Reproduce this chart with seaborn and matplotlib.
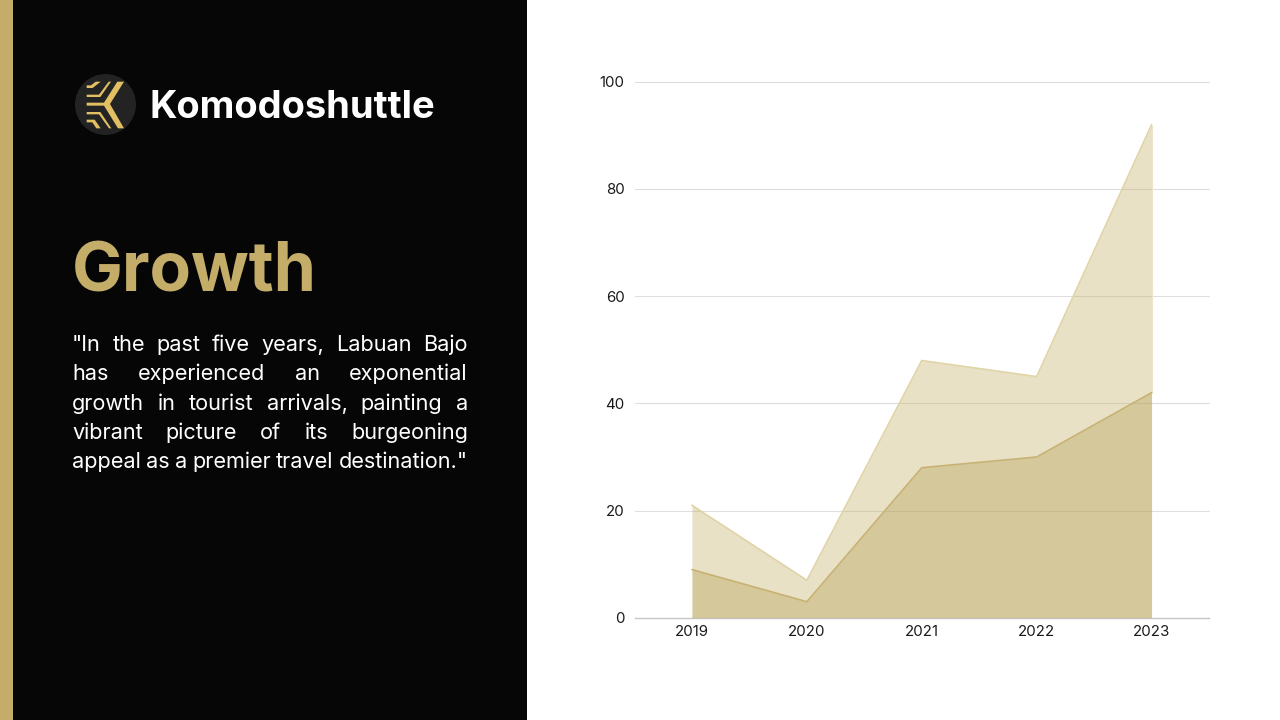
import matplotlib
matplotlib.use("Agg")
import matplotlib.pyplot as plt
from matplotlib.patches import Circle, Polygon, Rectangle
import pandas as pd
import seaborn as sns

years = ["2019", "2020", "2021", "2022", "2023"]
upper_values = [21, 7, 48, 45, 92]
lower_values = [9, 3, 28, 30, 42]
y_ticks = [0, 20, 40, 60, 80, 100]

brand = "Komodoshuttle"
heading = "Growth"
quote_lines = [
    '"In the past five years, Labuan Bajo',
    "has experienced an exponential",
    "growth in tourist arrivals, painting a",
    "vibrant picture of its burgeoning",
    'appeal as a premier travel destination."',
]

GOLD = "#C3AD68"
INK = "#060606"

sns.set_theme(style="white")
plt.rcParams["font.family"] = ["Inter", "DejaVu Sans"]

fig = plt.figure(figsize=(12.8, 7.2), dpi=100, facecolor="white")

# Full-slide layer in pixel coordinates for the panel, logo and copy
slide = fig.add_axes([0, 0, 1, 1], zorder=0)
slide.set_xlim(0, 1280)
slide.set_ylim(720, 0)
slide.axis("off")
slide.add_patch(Rectangle((0, 0), 527, 720, color=INK, lw=0))
slide.add_patch(Rectangle((0, 0), 13, 720, color=GOLD, lw=0))

# Logo badge
slide.add_patch(Circle((105.5, 104.5), 30.5, color="#232323", lw=0))
logo_shapes = [
    [(172, 35), (192, 35), (150, 102), (192, 175), (174, 175), (132, 107),
     (80, 107), (80, 98), (132, 98)],
    [(107, 35), (122, 35), (98, 54), (80, 54), (80, 46), (93, 46)],
    [(146, 35), (153, 35), (121, 81), (80, 81), (80, 74), (117, 74)],
    [(80, 126), (121, 126), (154, 175), (147, 175), (117, 133), (80, 133)],
    [(80, 149), (104, 149), (122, 175), (109, 175), (97, 157), (80, 157)],
]
for shape in logo_shapes:
    slide.add_patch(Polygon([(60 + x / 3, 70 + y / 3) for x, y in shape],
                            closed=True, color="#E3BF63", lw=0))

slide.text(149.5, 104, brand, color="white", fontsize=27.4, fontweight="bold",
           va="center_baseline", ha="left")
slide.text(71.5, 266, heading, color=GOLD, fontsize=48.9, fontweight="bold",
           va="center_baseline", ha="left")

# Justified quote: each line is spread over the full column width
renderer = fig.canvas.get_renderer()
left, right = 72.0, 468.0
for i, line in enumerate(quote_lines):
    baseline = 351 + i * 29.3
    words = line.split(" ")
    items = [slide.text(0, baseline, w, color="white", fontsize=15.6, va="baseline", ha="left")
             for w in words]
    widths = [t.get_window_extent(renderer).width for t in items]
    space = (right - left - sum(widths)) / (len(words) - 1)
    x = left
    for t, w in zip(items, widths):
        t.set_x(x)
        x += w + space

# Area chart
frame = pd.DataFrame({"year": years, "upper": upper_values, "lower": lower_values})
ax = fig.add_axes([634.5 / 1280, 1 - 617.8 / 720, 574.5 / 1280, 536 / 720], zorder=1)
ax.patch.set_alpha(0)
positions = range(len(years))
ax.set_axisbelow(True)
ax.fill_between(positions, frame["upper"], 0, color="#C2AE61", alpha=0.36, lw=0, zorder=2)
ax.fill_between(positions, frame["lower"], 0, color="#B49D4F", alpha=0.36, lw=0, zorder=3)
sns.lineplot(x=list(positions), y=frame["upper"].to_numpy(), ax=ax, color="#E0D3A5",
             lw=1.2, zorder=4, errorbar=None)
sns.lineplot(x=list(positions), y=frame["lower"].to_numpy(), ax=ax, color="#C7B273",
             lw=1.2, zorder=5, errorbar=None)
ax.vlines(len(years) - 1, lower_values[-1], upper_values[-1], color="#EDE5C8", lw=0.8, zorder=4)

ax.set_xlim(-0.5, len(years) - 0.5)
ax.set_ylim(0, 100)
ax.set_xticks(list(positions), years)
ax.set_yticks(y_ticks)
ax.set_xlabel("")
ax.set_ylabel("")
ax.tick_params(axis="both", length=0, labelsize=10.8, labelcolor="#1a1a1a")
ax.tick_params(axis="x", pad=5)
ax.tick_params(axis="y", pad=7)
ax.grid(axis="y", color="#DEDEDE", lw=0.8)
ax.grid(axis="x", visible=False)
for side in ("top", "left", "right"):
    ax.spines[side].set_visible(False)
ax.spines["bottom"].set_color("#C8C8C8")
ax.spines["bottom"].set_linewidth(1.0)
for line in ax.get_ygridlines():
    line.set_clip_on(False)

fig.savefig("out.png", dpi=100, facecolor="white")
